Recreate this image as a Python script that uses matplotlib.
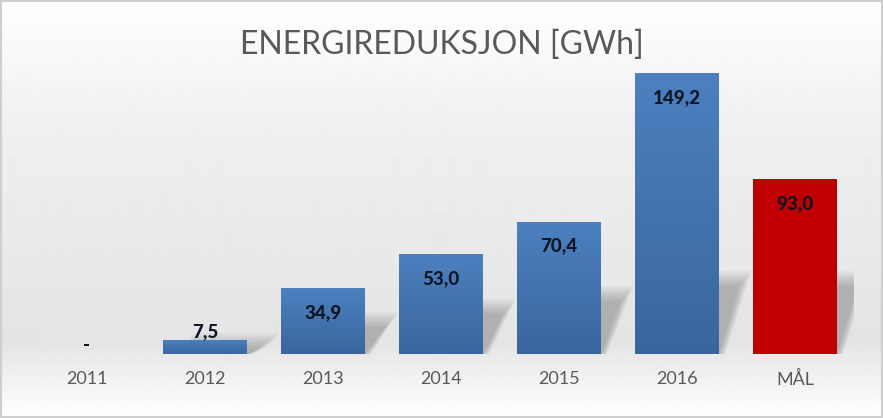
import numpy as np
import matplotlib.pyplot as plt
from matplotlib.patches import Polygon, Rectangle

# DATA
kategorier = ['2011', '2012', '2013', '2014', '2015', '2016', 'MÅL']
verdier = [0.0, 7.5, 34.9, 53.0, 70.4, 149.2, 93.0]
etiketter = ['-', '7,5', '34,9', '53,0', '70,4', '149,2', '93,0']
er_maal = [False, False, False, False, False, False, True]

plt.rcParams['font.family'] = ['Lato', 'DejaVu Sans']

fig = plt.figure(figsize=(8.83, 4.18), dpi=100)

# background with vertical gradient and grey frame
bg = fig.add_axes([0, 0, 1, 1], zorder=-10)
bg.axis('off')
grad = np.interp(np.linspace(0, 1, 418), [0, 0.3, 0.82, 1.0], [1.0, 0.94, 0.895, 1.0])
bg.imshow(grad[:, None], cmap='gray', vmin=0, vmax=1, aspect='auto',
          extent=[0, 1, 0, 1], interpolation='bilinear')
bg.set_xlim(0, 1)
bg.set_ylim(0, 1)
bg.add_patch(Rectangle((0, 0), 1, 1, transform=bg.transAxes, fill=False,
                       ec='#CFCFCF', lw=3, clip_on=False))

fig.text(0.5, 0.893, 'ENERGIREDUKSJON [GWh]', ha='center', va='center',
         fontsize=23, color='#595959')

ax = fig.add_axes([28 / 883, 64 / 418, 826 / 883, 301 / 418])
ax.patch.set_alpha(0)
x = np.arange(len(kategorier))
bredde = 0.71
farger = ['#C00000' if m else '#4A7DBA' for m in er_maal]

# soft perspective shadows
for xi, v in zip(x, verdier):
    if v <= 0:
        continue
    h = min(v * 0.4, 36)
    x0, x1 = xi - bredde / 2, xi + bredde / 2
    s = 0.17
    for k in range(10):
        e = k * 0.012
        ey = k * 0.9
        poly = Polygon([(x0 + 0.1, 0), (x1 + e * 0.5, 0), (x1 + s + e, h + ey),
                        (x0 + s + 0.1, h + ey)], closed=True,
                       fc='#5a5a5a', ec='none', alpha=0.045, zorder=2)
        ax.add_patch(poly)

bars = ax.bar(x, verdier, width=bredde, color=farger, zorder=3)

# gradient fill for the blue bars
blaa = plt.matplotlib.colors.LinearSegmentedColormap.from_list('blaa', ['#3A669E', '#4C80BF'])
for b, v, m in zip(bars, verdier, er_maal):
    if m or v <= 0:
        continue
    g = np.linspace(1, 0, 100)[:, None]
    im = ax.imshow(g, cmap=blaa, aspect='auto', zorder=3.5,
                   extent=[b.get_x(), b.get_x() + b.get_width(), 0, v])
    im.set_clip_path(b)

for xi, v, lbl in zip(x, verdier, etiketter):
    if v >= 20:
        ax.annotate(lbl, (xi, v), xytext=(0, -17.5), textcoords='offset points',
                    ha='center', va='center', fontsize=13.5, fontweight='black',
                    color='#0E1626', zorder=5)
    else:
        ax.annotate(lbl, (xi, v), xytext=(0, 0), textcoords='offset points',
                    ha='center', va='bottom', fontsize=13.5, fontweight='black',
                    color='#0E1626', zorder=5)

ax.set_xlim(-0.5, 6.5)
ax.set_ylim(0, 160)
ax.set_xticks(x)
ax.set_xticklabels(kategorier, fontsize=13, color='#595959')
ax.tick_params(axis='x', length=0, pad=12)
ax.set_yticks([])
for sp in ax.spines.values():
    sp.set_visible(False)

fig.savefig('out.png', dpi=100)
